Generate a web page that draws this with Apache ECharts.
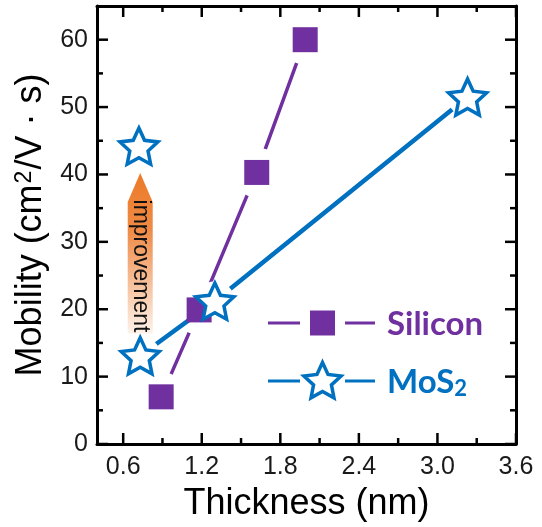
<!DOCTYPE html>
<html>
<head>
<meta charset="utf-8">
<script src="https://cdn.jsdelivr.net/npm/echarts@6/dist/echarts.min.js"></script>
<style>
  html, body { margin: 0; padding: 0; background: #fff; }
  #chart { width: 542px; height: 527px; }
</style>
</head>
<body>
<div id="chart"></div>
<script>
// Silicon channel: thickness (nm) vs. mobility (cm^2/V.s)
const siThickness = [0.89, 1.18, 1.62, 1.99];
const siMobility  = [7.0, 19.9, 40.3, 60.0];

// MoS2 channel
const mosThickness = [0.73, 1.30, 3.23];
const mosMobility  = [13.1, 21.2, 51.5];

// Improved monolayer MoS2 point
const targetThickness = [0.72];
const targetMobility  = [44.2];

// "improvement" arrow: x position, base, neck and tip (mobility units)
const arrowX = 0.73;
const arrowBase = 16.4;
const arrowNeck = 35.9;
const arrowTip = 40.2;

// Axis ranges and tick values
const xRange = [0.4, 3.6];
const yRange = [0, 65];
const xMajor = [0.6, 1.2, 1.8, 2.4, 3.0, 3.6];
const xMinor = [0.9, 1.5, 2.1, 2.7, 3.3];
const yMajor = [0, 10, 20, 30, 40, 50, 60];
const yMinor = [5, 15, 25, 35, 45, 55];

const PURPLE = '#7030A0';
const BLUE = '#0070C0';
const AXIS_FONT = 'Liberation Sans';
const MAJOR_LEN = 11;
const MINOR_LEN = 6;

const pairs = (xs, ys) => xs.map((x, i) => [x, ys[i]]);

// Five-pointed star outline, centred on (cx, cy)
function starPoints(cx, cy, R, r) {
  const pts = [];
  for (let k = 0; k < 10; k++) {
    const a = -Math.PI / 2 + k * Math.PI / 5;
    const rad = k % 2 === 0 ? R : r;
    pts.push([cx + rad * Math.cos(a), cy + rad * Math.sin(a)]);
  }
  return pts;
}
const starPath = 'path://' + starPoints(50, 50, 50, 24).map((p, i) =>
  (i === 0 ? 'M' : 'L') + p[0].toFixed(2) + ' ' + p[1].toFixed(2)).join(' ') + ' Z';

function axisDef(position, range, withLabels) {
  return {
    type: 'value', position, min: range[0], max: range[1],
    axisLine: { show: true, onZero: false, lineStyle: { color: '#000', width: 3 } },
    axisTick: { show: false },
    axisLabel: withLabels ? {
      show: true, customValues: withLabels.values, margin: withLabels.margin, fontSize: 25,
      fontFamily: AXIS_FONT, color: '#1a1a1a', formatter: withLabels.format
    } : { show: false },
    splitLine: { show: false }
  };
}

const xAxes = [
  Object.assign(axisDef('bottom', xRange, { values: xMajor, margin: 11, format: v => v.toFixed(1) }), {
    name: 'Thickness (nm)', nameLocation: 'middle', nameGap: 42,
    nameTextStyle: { fontSize: 36, fontFamily: AXIS_FONT, color: '#000' }
  }),
  axisDef('top', xRange, null)
];
const yAxes = [
  Object.assign(axisDef('left', yRange, { values: yMajor, margin: 9, format: v => String(v) }), {
    name: 'Mobility (cm{sup|2}/V · s)', nameLocation: 'middle', nameGap: 42,
    nameTextStyle: {
      fontSize: 36, fontFamily: AXIS_FONT, color: '#000', verticalAlign: 'bottom',
      rich: { sup: { fontSize: 23, fontFamily: AXIS_FONT, color: '#000',
                     verticalAlign: 'bottom', padding: [0, 1, 14, 1] } }
    }
  }),
  axisDef('right', yRange, null)
];

// Inward tick marks on all four sides of the frame
const tickStyle = { stroke: '#000', lineWidth: 2.5 };
const xTickData = xMajor.map(v => [v, 1]).concat(xMinor.map(v => [v, 0]));
const yTickData = yMajor.map(v => [1, v]).concat(yMinor.map(v => [0, v]));
const xTickSeries = {
  type: 'custom', silent: true, z: 1, data: xTickData, encode: { x: 0 },
  renderItem: (params, api) => {
    const len = api.value(1) ? MAJOR_LEN : MINOR_LEN;
    const b = api.coord([api.value(0), yRange[0]]);
    const t = api.coord([api.value(0), yRange[1]]);
    return { type: 'group', children: [
      { type: 'line', shape: { x1: b[0], y1: b[1], x2: b[0], y2: b[1] - len }, style: tickStyle },
      { type: 'line', shape: { x1: t[0], y1: t[1], x2: t[0], y2: t[1] + len }, style: tickStyle }
    ] };
  }
};
const yTickSeries = {
  type: 'custom', silent: true, z: 1, data: yTickData, encode: { y: 1 },
  renderItem: (params, api) => {
    const len = api.value(0) ? MAJOR_LEN : MINOR_LEN;
    const l = api.coord([xRange[0], api.value(1)]);
    const r = api.coord([xRange[1], api.value(1)]);
    return { type: 'group', children: [
      { type: 'line', shape: { x1: l[0], y1: l[1], x2: l[0] + len, y2: l[1] }, style: tickStyle },
      { type: 'line', shape: { x1: r[0], y1: r[1], x2: r[0] - len, y2: r[1] }, style: tickStyle }
    ] };
  }
};

const arrowFill = new echarts.graphic.LinearGradient(0, 0, 0, 1, [
  { offset: 0, color: '#EC7A28' },
  { offset: 0.35, color: '#EF8A45' },
  { offset: 1, color: '#FDF2EA' }
]);

// Legend drawn as line–marker–line samples followed by the series name
const legendRows = [
  { y: 323, color: PURPLE, marker: 'square', label: 'Silicon' },
  { y: 381, color: BLUE, marker: 'star', label: 'MoS{sub|2}' }
];
const legendGraphics = [];
legendRows.forEach(row => {
  legendGraphics.push(
    { type: 'line', shape: { x1: 268, y1: row.y, x2: 300, y2: row.y },
      style: { stroke: row.color, lineWidth: 3 } },
    { type: 'line', shape: { x1: 345, y1: row.y, x2: 375, y2: row.y },
      style: { stroke: row.color, lineWidth: 3 } }
  );
  if (row.marker === 'square') {
    legendGraphics.push({ type: 'rect', shape: { x: 310, y: row.y - 12.5, width: 25, height: 25 },
      style: { fill: row.color } });
  } else {
    legendGraphics.push({ type: 'polygon', shape: { points: starPoints(322.5, row.y + 1, 19.5, 9.4) },
      style: { fill: '#fff', stroke: row.color, lineWidth: 3.5 } });
  }
  legendGraphics.push({
    type: 'text', x: 387, y: row.y + 1,
    style: {
      text: row.label, fill: row.color, fontFamily: 'Lato', fontWeight: 'bold', fontSize: 33,
      verticalAlign: 'middle', align: 'left',
      rich: { sub: { fontFamily: 'Lato', fontWeight: 'bold', fontSize: 22, fill: row.color,
                     padding: [14, 0, 0, 0] } }
    }
  });
});

const option = {
  animation: false,
  backgroundColor: '#fff',
  grid: { left: 97, right: 26, top: 6, bottom: 81, containLabel: false },
  xAxis: xAxes,
  yAxis: yAxes,
  graphic: legendGraphics,
  series: [
    xTickSeries,
    yTickSeries,
    { name: 'Silicon line', type: 'line', data: pairs(siThickness, siMobility),
      showSymbol: false, lineStyle: { color: PURPLE, width: 3.5 }, z: 2, silent: true },
    { name: 'Silicon gap', type: 'scatter', data: pairs(siThickness, siMobility),
      symbol: 'circle', symbolSize: 50, itemStyle: { color: '#fff', opacity: 1 }, z: 3, silent: true },
    { name: 'MoS2 line', type: 'line', data: pairs(mosThickness, mosMobility),
      showSymbol: false, lineStyle: { color: BLUE, width: 4.5 }, z: 4, silent: true },
    { name: 'MoS2 gap', type: 'scatter', data: pairs(mosThickness, mosMobility),
      symbol: 'circle', symbolSize: 40, itemStyle: { color: '#fff', opacity: 1 }, z: 5, silent: true },
    { name: 'Silicon', type: 'scatter', data: pairs(siThickness, siMobility),
      symbol: 'rect', symbolSize: 25, itemStyle: { color: PURPLE, opacity: 1 }, z: 6 },
    { name: 'MoS2', type: 'scatter', data: pairs(mosThickness, mosMobility),
      symbol: starPath, symbolKeepAspect: true, symbolSize: 38,
      itemStyle: { color: '#fff', borderColor: BLUE, borderWidth: 3.5, opacity: 1 }, z: 7 },
    { name: 'MoS2 improved', type: 'scatter', data: pairs(targetThickness, targetMobility),
      symbol: starPath, symbolKeepAspect: true, symbolSize: 38,
      itemStyle: { color: '#fff', borderColor: BLUE, borderWidth: 3.5, opacity: 1 }, z: 7 },
    { name: 'improvement', type: 'custom', z: 8, silent: true,
      data: [[arrowX, arrowBase, arrowNeck, arrowTip]],
      renderItem: (params, api) => {
        const base = api.coord([api.value(0), api.value(1)]);
        const neck = api.coord([api.value(0), api.value(2)]);
        const tip = api.coord([api.value(0), api.value(3)]);
        const hw = 12.5;
        return {
          type: 'group',
          children: [
            { type: 'polygon',
              shape: { points: [[base[0] - hw, base[1]], [neck[0] - hw, neck[1]], [tip[0], tip[1]],
                                [neck[0] + hw, neck[1]], [base[0] + hw, base[1]]] },
              style: { fill: arrowFill } },
            { type: 'text', x: base[0], y: base[1] - 1, rotation: -Math.PI / 2,
              style: { text: 'improvement', fill: '#111', fontFamily: AXIS_FONT, fontSize: 23,
                       align: 'right', verticalAlign: 'middle' } }
          ]
        };
      }
    }
  ]
};

echarts.init(document.getElementById('chart'), null, { renderer: 'canvas' }).setOption(option);
</script>
</body>
</html>
